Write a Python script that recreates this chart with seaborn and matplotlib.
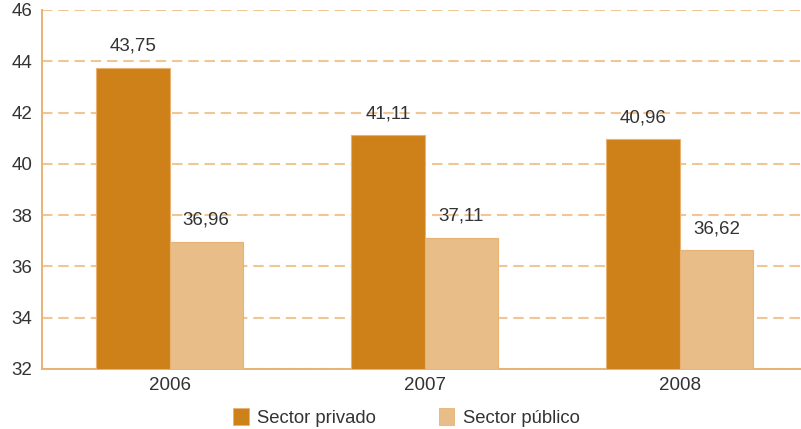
import pandas as pd
import matplotlib.pyplot as plt
import seaborn as sns
from matplotlib.patches import Patch

years = ["2006", "2007", "2008"]
privado = [43.75, 41.11, 40.96]
publico = [36.96, 37.11, 36.62]
series = ["Sector privado", "Sector público"]
colores = ["#CF8119", "#E9BD87"]

df = pd.DataFrame({
    "Año": years * 2,
    "Sector": [series[0]] * 3 + [series[1]] * 3,
    "Valor": privado + publico,
})

sns.set_style("white")
plt.rcParams["font.family"] = ["Liberation Sans", "DejaVu Sans"]
eje = "#E8B372"
texto = "#333333"

fig = plt.figure(figsize=(8.01, 4.29), dpi=100)
ax = fig.add_axes([0.0524, 0.14, 0.9476, 0.8367])

sns.barplot(data=df, x="Año", y="Valor", hue="Sector", palette=colores,
            width=0.575, ax=ax, legend=False, saturation=1,
            edgecolor=eje, linewidth=0.8, zorder=3)

ax.set_ylim(32, 46)
ax.set_xlim(-0.5, 2.475)
ax.set_yticks(range(32, 47, 2))
ax.yaxis.grid(True, linestyle=(0, (5, 2.8)), color="#F1C594", linewidth=1.5, zorder=0)
ax.set_axisbelow(True)
ax.set_xlabel("")
ax.set_ylabel("")

for s in ["top", "right"]:
    ax.spines[s].set_visible(False)
for s in ["left", "bottom"]:
    ax.spines[s].set_color(eje)
    ax.spines[s].set_linewidth(1.4)

ax.tick_params(axis="y", colors=eje, labelcolor=texto, labelsize=13.5, length=5, width=1.2, pad=2)
ax.tick_params(axis="x", length=0, labelcolor=texto, labelsize=13.5, pad=6)
ax.set_xticks([-0.5, 0.5, 1.5], minor=True)
ax.tick_params(axis="x", which="minor", length=4, width=1.2, colors=eje)

for cont in ax.containers:
    for bar in cont:
        h = bar.get_height()
        ax.annotate(f"{h:.2f}".replace(".", ","),
                    (bar.get_x() + bar.get_width() / 2, h),
                    xytext=(0, 9.5), textcoords="offset points",
                    ha="center", va="bottom", fontsize=13.5, color=texto)

handles = [Patch(facecolor=c, edgecolor=eje, linewidth=0.6) for c in colores]
fig.legend(handles, series, loc="center", bbox_to_anchor=(0.507, 0.027),
           ncol=2, frameon=False, fontsize=13.3, handlelength=0.85,
           handleheight=1.0, columnspacing=3.4, handletextpad=0.45,
           labelcolor=texto)

fig.savefig("out.png", dpi=100)
